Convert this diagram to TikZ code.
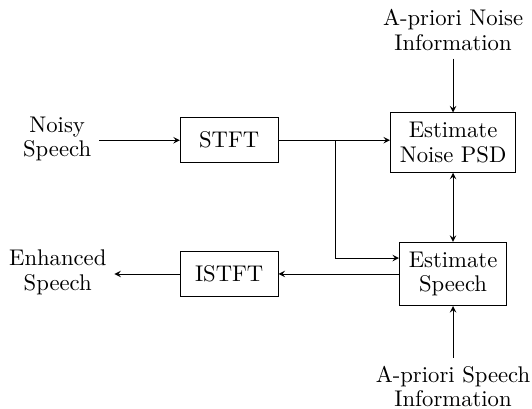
\documentclass[tikz,border=0pt,11pt]{standalone}
\usepackage{tikz}

\begin{document}
\begin{tikzpicture}[>=stealth, font=\fontsize{10.95}{12}\selectfont]
    \tikzstyle{block} = [draw, minimum width=1.66cm, minimum height=0.76cm, inner sep=4.5pt, align=center]
    \tikzstyle{label} = [align=center]
    \tikzstyle{arrow} = [->]

    \useasboundingbox (0,0) rectangle (9.03,-6.94);

    % Inputs and outputs
    \node[label] (noisy) at (0.97,-2.36) {Noisy\\Speech};
    \node[label] (enh) at (0.98,-4.62) {Enhanced\\Speech};
    \node[label] (nprior) at (7.69,-0.51) {A-priori Noise\\Information};
    \node[label] (sprior) at (7.69,-6.56) {A-priori Speech\\Information};

    % Blocks
    \node[block] (stft) at (3.89,-2.38) {STFT};
    \node[block] (istft) at (3.89,-4.65) {ISTFT};
    \node[block] (npsd) at (7.69,-2.42) {Estimate\\Noise PSD};
    \node[block] (spch) at (7.69,-4.65) {Estimate\\Speech};

    \coordinate (split) at (5.69,-2.38);

    % Arrows
    \draw[arrow] (noisy.east |- stft) -- (stft);
    \draw[arrow] (stft.east) -- (stft.east -| npsd.west);
    \draw[arrow] (split) |- ([yshift=0.27cm]spch.west);
    \draw[arrow] (nprior) -- (npsd);
    \draw[<->] (npsd) -- (spch);
    \draw[arrow] (sprior) -- (spch);
    \draw[arrow] (spch.west |- istft) -- (istft);
    \draw[arrow] (istft) -- (enh.east |- istft);
\end{tikzpicture}
\end{document}
